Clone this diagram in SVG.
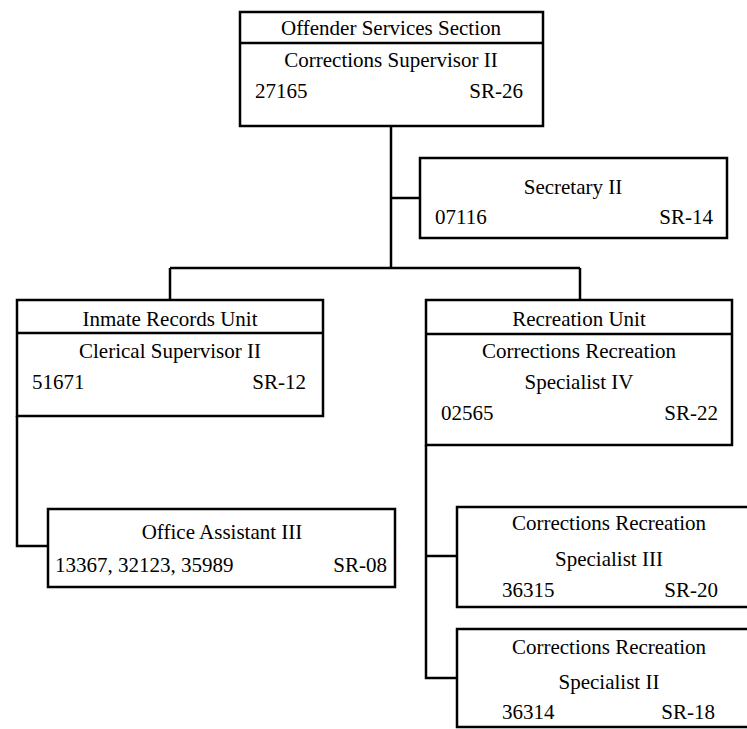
<svg xmlns="http://www.w3.org/2000/svg" width="747" height="729" viewBox="0 0 747 729">
<style>
.box{fill:none;stroke:#000;stroke-width:2.5}
.ln{fill:none;stroke:#000;stroke-width:2.5}
text{font-family:"Liberation Serif","Times New Roman",serif;font-size:21px;fill:#000}
.c{text-anchor:middle}
.e{text-anchor:end}
</style>
<rect width="747" height="729" fill="#fff"/>
<g id="connectors">
<path class="ln" d="M391,126 V268 M391,198 H420 M170,268 H580 M170,268 V300 M580,268 V300"/>
<path class="ln" d="M17,416 V546 H48"/>
<path class="ln" d="M426,445 V678 H457 M426,556 H457"/>
</g>
<g id="offender-services">
<rect class="box" x="240" y="12" width="303" height="114"/>
<line class="ln" x1="240" y1="43" x2="543" y2="43"/>
<text class="c" x="391" y="35">Offender Services Section</text>
<text class="c" x="391" y="67">Corrections Supervisor II</text>
<text x="255" y="98">27165</text>
<text class="e" x="523" y="98">SR-26</text>
</g>
<g id="secretary">
<rect class="box" x="420" y="158" width="307" height="80"/>
<text class="c" x="573" y="194">Secretary II</text>
<text x="435" y="224">07116</text>
<text class="e" x="713" y="224">SR-14</text>
</g>
<g id="inmate-records">
<rect class="box" x="17" y="300" width="306" height="116"/>
<line class="ln" x1="17" y1="333" x2="323" y2="333"/>
<text class="c" x="170" y="326">Inmate Records Unit</text>
<text class="c" x="170" y="358">Clerical Supervisor II</text>
<text x="32" y="389">51671</text>
<text class="e" x="306" y="389">SR-12</text>
</g>
<g id="recreation">
<rect class="box" x="426" y="300" width="306" height="145"/>
<line class="ln" x1="426" y1="334" x2="732" y2="334"/>
<text class="c" x="579" y="326">Recreation Unit</text>
<text class="c" x="579" y="358">Corrections Recreation</text>
<text class="c" x="579" y="389">Specialist IV</text>
<text x="441" y="420">02565</text>
<text class="e" x="718" y="420">SR-22</text>
</g>
<g id="office-assistant">
<rect class="box" x="48" y="509" width="347" height="78"/>
<text class="c" x="222" y="539">Office Assistant III</text>
<text x="55" y="572">13367, 32123, 35989</text>
<text class="e" x="387" y="572">SR-08</text>
</g>
<g id="specialist-iii">
<rect class="box" x="457" y="507" width="310" height="100"/>
<text class="c" x="609" y="530">Corrections Recreation</text>
<text class="c" x="609" y="566">Specialist III</text>
<text x="502" y="597">36315</text>
<text class="e" x="718" y="597">SR-20</text>
</g>
<g id="specialist-ii">
<rect class="box" x="457" y="629" width="310" height="98"/>
<text class="c" x="609" y="654">Corrections Recreation</text>
<text class="c" x="609" y="689">Specialist II</text>
<text x="502" y="719">36314</text>
<text class="e" x="715" y="719">SR-18</text>
</g>
</svg>
